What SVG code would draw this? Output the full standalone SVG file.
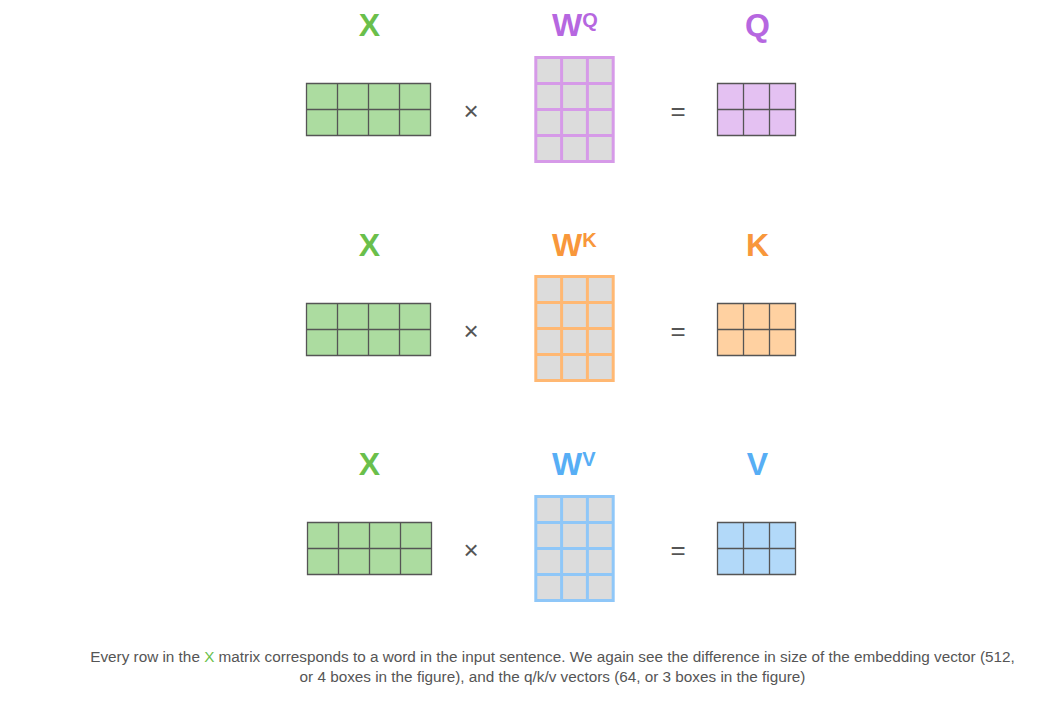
<svg xmlns="http://www.w3.org/2000/svg" width="1049" height="708" viewBox="0 0 1049 708">
<style>
  .lbl { font-family: "Liberation Sans", Arial, sans-serif; font-weight: bold; font-size: 32px; text-anchor: start; }
  .ctr { text-anchor: middle; }
  .sup { font-size: 20px; }
  .op { font-family: "Liberation Sans", Arial, sans-serif; font-size: 26px; fill: #555; text-anchor: middle; }
  .cap { font-family: "Liberation Sans", Arial, sans-serif; font-size: 15.3px; fill: #555; text-anchor: middle; }
  .grid { stroke: #555; stroke-width: 1.3; fill: none; }
  .xfill { fill: #acdca0; }
  .wfill { fill: #dcdcdc; }
  .green { fill: #6abf4b; }
  .purple { fill: #b667e0; }
  .orange { fill: #f8973b; }
  .blue { fill: #57aef5; }
</style>
<defs>
  <g id="xmat">
    <rect class="xfill" x="0" y="0" width="124" height="52"/>
    <path class="grid" d="M0 0H124V52H0Z M31 0V52 M62 0V52 M93 0V52 M0 26H124"/>
  </g>
  <g id="wmat">
    <rect class="wfill" x="0" y="0" width="77.4" height="104"/>
    <path fill="none" stroke-width="3" d="M0 0H77.4V104H0Z M25.8 0V104 M51.6 0V104 M0 26H77.4 M0 52H77.4 M0 78H77.4"/>
  </g>
  <g id="rmat">
    <path class="grid" d="M0 0H78V52H0Z M26 0V52 M52 0V52 M0 26H78"/>
  </g>
</defs>

<!-- Row 1: Q -->
<g id="row-q">
  <g id="x1">
    <text class="lbl ctr green" x="369.5" y="36">X</text>
    <use href="#xmat" x="306.5" y="83.5"/>
  </g>
  <text class="op" x="471" y="120">×</text>
  <g id="wq">
    <text class="lbl purple" x="552" y="36">W<tspan class="sup" dy="-9">Q</tspan></text>
    <use href="#wmat" x="535.8" y="57.5" stroke="#d69ae8"/>
  </g>
  <text class="op" x="678" y="120">=</text>
  <g id="q">
    <text class="lbl ctr purple" x="757.5" y="36">Q</text>
    <rect x="717.5" y="83.5" width="78" height="52" fill="#e4c1f2"/>
    <use href="#rmat" x="717.5" y="83.5"/>
  </g>
</g>

<!-- Row 2: K -->
<g id="row-k">
  <g id="x2">
    <text class="lbl ctr green" x="369.5" y="256">X</text>
    <use href="#xmat" x="306.5" y="303.5"/>
  </g>
  <text class="op" x="471" y="340">×</text>
  <g id="wk">
    <text class="lbl orange" x="552" y="256">W<tspan class="sup" dy="-9">K</tspan></text>
    <use href="#wmat" x="535.8" y="276.5" stroke="#ffb873"/>
  </g>
  <text class="op" x="678" y="340">=</text>
  <g id="k">
    <text class="lbl ctr orange" x="757.5" y="256">K</text>
    <rect x="717.5" y="303.5" width="78" height="52" fill="#ffd1a1"/>
    <use href="#rmat" x="717.5" y="303.5"/>
  </g>
</g>

<!-- Row 3: V -->
<g id="row-v">
  <g id="x3">
    <text class="lbl ctr green" x="369.5" y="475">X</text>
    <use href="#xmat" x="307.5" y="522.5"/>
  </g>
  <text class="op" x="471" y="559">×</text>
  <g id="wv">
    <text class="lbl blue" x="552" y="475">W<tspan class="sup" dy="-9">V</tspan></text>
    <use href="#wmat" x="535.8" y="496.5" stroke="#8fc7f8"/>
  </g>
  <text class="op" x="678" y="559">=</text>
  <g id="v">
    <text class="lbl ctr blue" x="757.5" y="475">V</text>
    <rect x="717.5" y="522.5" width="78" height="52" fill="#b2d9f9"/>
    <use href="#rmat" x="717.5" y="522.5"/>
  </g>
</g>

<g id="caption">
  <text class="cap" x="552.5" y="661.5">Every row in the <tspan fill="#6abf4b">X</tspan> matrix corresponds to a word in the input sentence. We again see the difference in size of the embedding vector (512,</text>
  <text class="cap" x="552.5" y="681.5">or 4 boxes in the figure), and the q/k/v vectors (64, or 3 boxes in the figure)</text>
</g>
</svg>
